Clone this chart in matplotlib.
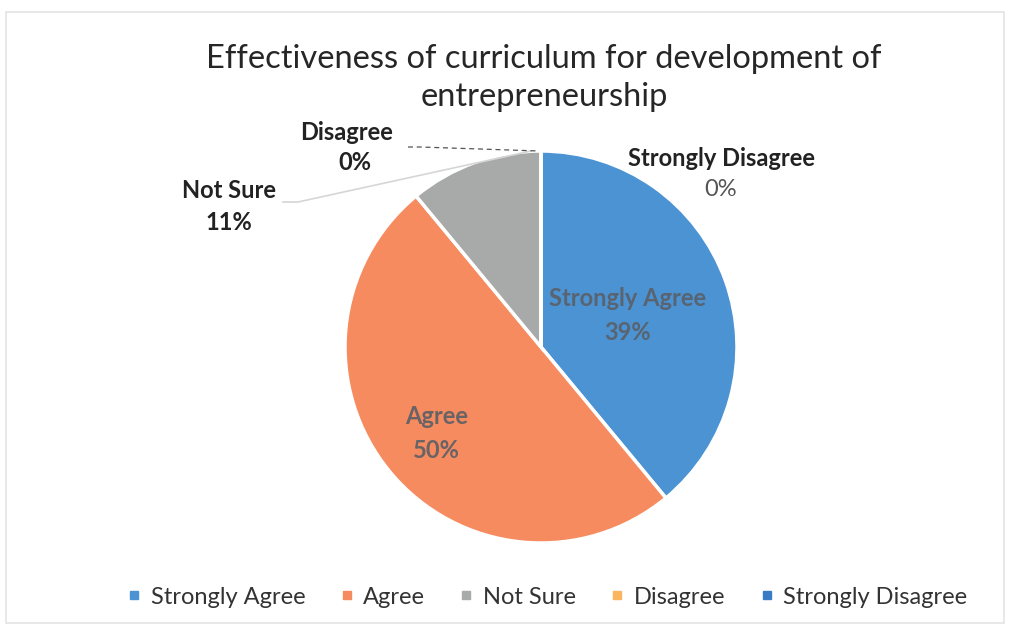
import matplotlib.pyplot as plt
import numpy as np
from matplotlib.patches import Rectangle

plt.rcParams['font.family'] = ['Lato', 'DejaVu Sans']

# data
categories = ['Strongly Agree', 'Agree', 'Not Sure', 'Disagree', 'Strongly Disagree']
percent = [39, 50, 11, 0, 0]
pie_colors = ['#4C93D3', '#F68B5F', '#A8A9A9', '#FBB560', '#3A7BC6']
title = 'Effectiveness of curriculum for development of\nentrepreneurship'

W, H = 1017, 631
fig = plt.figure(figsize=(W / 100, H / 100), dpi=100)
ax = fig.add_axes([0, 0, 1, 1])

cx, cy, r = 541, 631 - 347, 196
wedges, _ = ax.pie(percent, colors=pie_colors, startangle=90, counterclock=False,
                   center=(cx, cy), radius=r,
                   wedgeprops=dict(edgecolor='white', linewidth=2.5))
ax.set_xlim(0, W)
ax.set_ylim(0, H)
ax.set_aspect('equal')
ax.axis('off')

# faint frame from the scan
ax.add_patch(Rectangle((6, 8), 998, 611, fill=False, edgecolor='#e4e4e4', lw=1.2))

fig.text(0.535, 1 - 78 / H, title, ha='center', va='center', fontsize=23.5,
         color='#262626', linespacing=1.32)

# labels inside big slices, at mid-angle of each wedge
for w, name, p in zip(wedges, categories, percent):
    if name in ('Strongly Agree', 'Agree'):
        mid = np.deg2rad((w.theta1 + w.theta2) / 2)
        f = 0.47 if name == 'Strongly Agree' else 0.69
        x = cx + f * r * np.cos(mid)
        y = cy + f * r * np.sin(mid)
        ax.text(x, y, f'{name}\n{p}%', ha='center', va='center', fontsize=17,
                fontweight='bold', color='#5a5f66', linespacing=1.6, alpha=0.9)

lab = dict(ha='center', va='center', fontsize=17, fontweight='bold', color='#222222')

# outside labels
top = (cx - 2, cy + r - 1)
ax.text(229, H - 190, 'Not Sure', **lab)
ax.text(229, H - 222, f'{percent[2]}%', **lab)
ax.plot([283, 298, top[0] - 8], [H - 202, H - 202, top[1] + 1], color='#d6d6d6', lw=1.2)

ax.text(347, H - 133, 'Disagree', **lab)
ax.text(355, H - 163, f'{percent[3]}%', **lab)
ax.plot([408, 420, top[0]], [H - 147, H - 147, top[1] + 1], color='#555555', lw=0.9,
        ls=(0, (4, 3)))

ax.text(721, H - 158, 'Strongly Disagree', **lab)
ax.text(721, H - 190, f'{percent[4]}%', ha='center', va='center', fontsize=17,
        color='#555555')

# legend
handles = [plt.Line2D([], [], marker='s', ls='', color=c, markersize=6) for c in pie_colors]
fig.legend(handles, categories, loc='center', bbox_to_anchor=(0.538, 1 - 597 / H),
           ncol=5, frameon=False, fontsize=17, handlelength=0.6, handletextpad=0.4,
           columnspacing=1.45, labelcolor='#333333')

fig.savefig('out.png', dpi=100)
